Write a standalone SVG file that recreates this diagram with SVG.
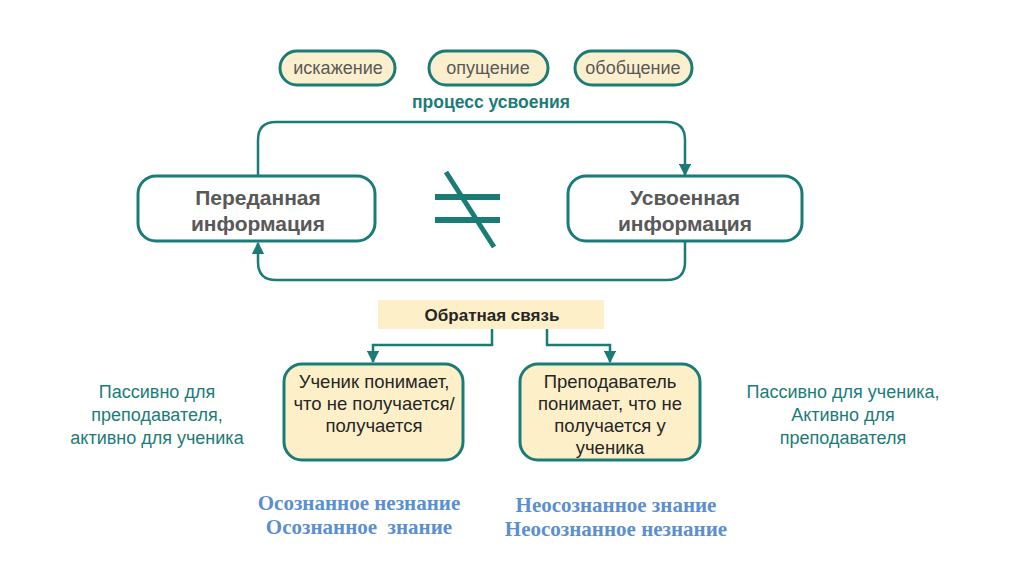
<svg xmlns="http://www.w3.org/2000/svg" width="1024" height="574" viewBox="0 0 1024 574">
<defs>
<style>
.pill{fill:#fbefcd;stroke:#1b7c77;stroke-width:3}
.box{fill:#ffffff;stroke:#1b7c77;stroke-width:3}
.ybox{fill:#fdf0c8;stroke:#1b7c77;stroke-width:3}
.conn{fill:none;stroke:#1b7c77;stroke-width:2.5}
.t{font-family:"Liberation Sans",Arial,sans-serif;text-anchor:middle}
.pt{font-size:18px;fill:#595959}
.bt{font-size:21px;font-weight:bold;fill:#595959}
.dt{font-size:18.5px;fill:#262626}
.st{font-size:18px;fill:#1b7c77}
.sv{font-family:"Liberation Serif","Times New Roman",serif;font-weight:bold;font-size:21px;fill:#5b8fcf;text-anchor:middle}
</style>
<marker id="ah" viewBox="0 0 10 10" refX="9" refY="5" markerWidth="5" markerHeight="5" orient="auto" markerUnits="strokeWidth">
<path d="M0,0 L10,5 L0,10 z" fill="#1b7c77"/>
</marker>
</defs>
<rect width="1024" height="574" fill="#ffffff"/>

<g id="connectors">
<path class="conn" d="M258,176 V140 Q258,122 276,122 H667 Q685,122 685,140 V175" marker-end="url(#ah)"/>
<path class="conn" d="M685,242 V262 Q685,280 667,280 H276 Q258,280 258,262 V243" marker-end="url(#ah)"/>
<path class="conn" d="M492,328 V345 H373 V362" marker-end="url(#ah)"/>
<path class="conn" d="M547,328 V345 H610 V362" marker-end="url(#ah)"/>
</g>

<g id="pill-iskazhenie">
<rect class="pill" x="280" y="51" width="115" height="34" rx="17"/>
<text class="t pt" x="338" y="74">искажение</text>
</g>
<g id="pill-opushchenie">
<rect class="pill" x="429" y="51" width="119" height="34" rx="17"/>
<text class="t pt" x="488" y="74">опущение</text>
</g>
<g id="pill-obobshchenie">
<rect class="pill" x="575" y="51" width="117" height="34" rx="17"/>
<text class="t pt" x="633" y="74">обобщение</text>
</g>
<g id="label-process">
<text class="t" x="491" y="108" font-size="17.5" font-weight="bold" fill="#1b7c77">процесс усвоения</text>
</g>

<g id="node-peredannaya">
<rect class="box" x="138" y="176" width="237" height="65" rx="18"/>
<text class="t bt" x="258" y="205">Переданная</text>
<text class="t bt" x="258" y="231">информация</text>
</g>
<g id="node-usvoennaya">
<rect class="box" x="568" y="176" width="234" height="65" rx="18"/>
<text class="t bt" x="685" y="205">Усвоенная</text>
<text class="t bt" x="685" y="231">информация</text>
</g>

<g id="not-equal" stroke="#1b7c77" stroke-width="6">
<line x1="435" y1="197" x2="500" y2="197"/>
<line x1="435" y1="220" x2="500" y2="220"/>
<line x1="446" y1="172" x2="494" y2="247" stroke-width="5"/>
</g>

<g id="node-feedback">
<rect x="378" y="300" width="226" height="29" fill="#fdf0c8"/>
<text class="t" x="492" y="321" font-size="17" font-weight="bold" fill="#262626">Обратная связь</text>
</g>

<g id="node-student">
<rect class="ybox" x="284" y="364" width="179" height="96" rx="18"/>
<text class="t dt" x="374" y="388">Ученик понимает,</text>
<text class="t dt" x="374" y="410">что не получается/</text>
<text class="t dt" x="374" y="432">получается</text>
</g>
<g id="node-teacher">
<rect class="ybox" x="520" y="364" width="180" height="96" rx="18"/>
<text class="t dt" x="610" y="388">Преподаватель</text>
<text class="t dt" x="610" y="410">понимает, что не</text>
<text class="t dt" x="610" y="432">получается у</text>
<text class="t dt" x="610" y="454">ученика</text>
</g>

<g id="side-left">
<text class="t st" x="157" y="398">Пассивно для</text>
<text class="t st" x="157" y="421">преподавателя,</text>
<text class="t st" x="157" y="444">активно для ученика</text>
</g>
<g id="side-right">
<text class="t st" x="843" y="398">Пассивно для ученика,</text>
<text class="t st" x="843" y="421">Активно для</text>
<text class="t st" x="843" y="444">преподавателя</text>
</g>

<g id="bottom-left">
<text class="sv" x="359" y="510">Осознанное незнание</text>
<text class="sv" x="359" y="534" xml:space="preserve">Осознанное  знание</text>
</g>
<g id="bottom-right">
<text class="sv" x="616" y="512">Неосознанное знание</text>
<text class="sv" x="616" y="536">Неосознанное незнание</text>
</g>
</svg>
